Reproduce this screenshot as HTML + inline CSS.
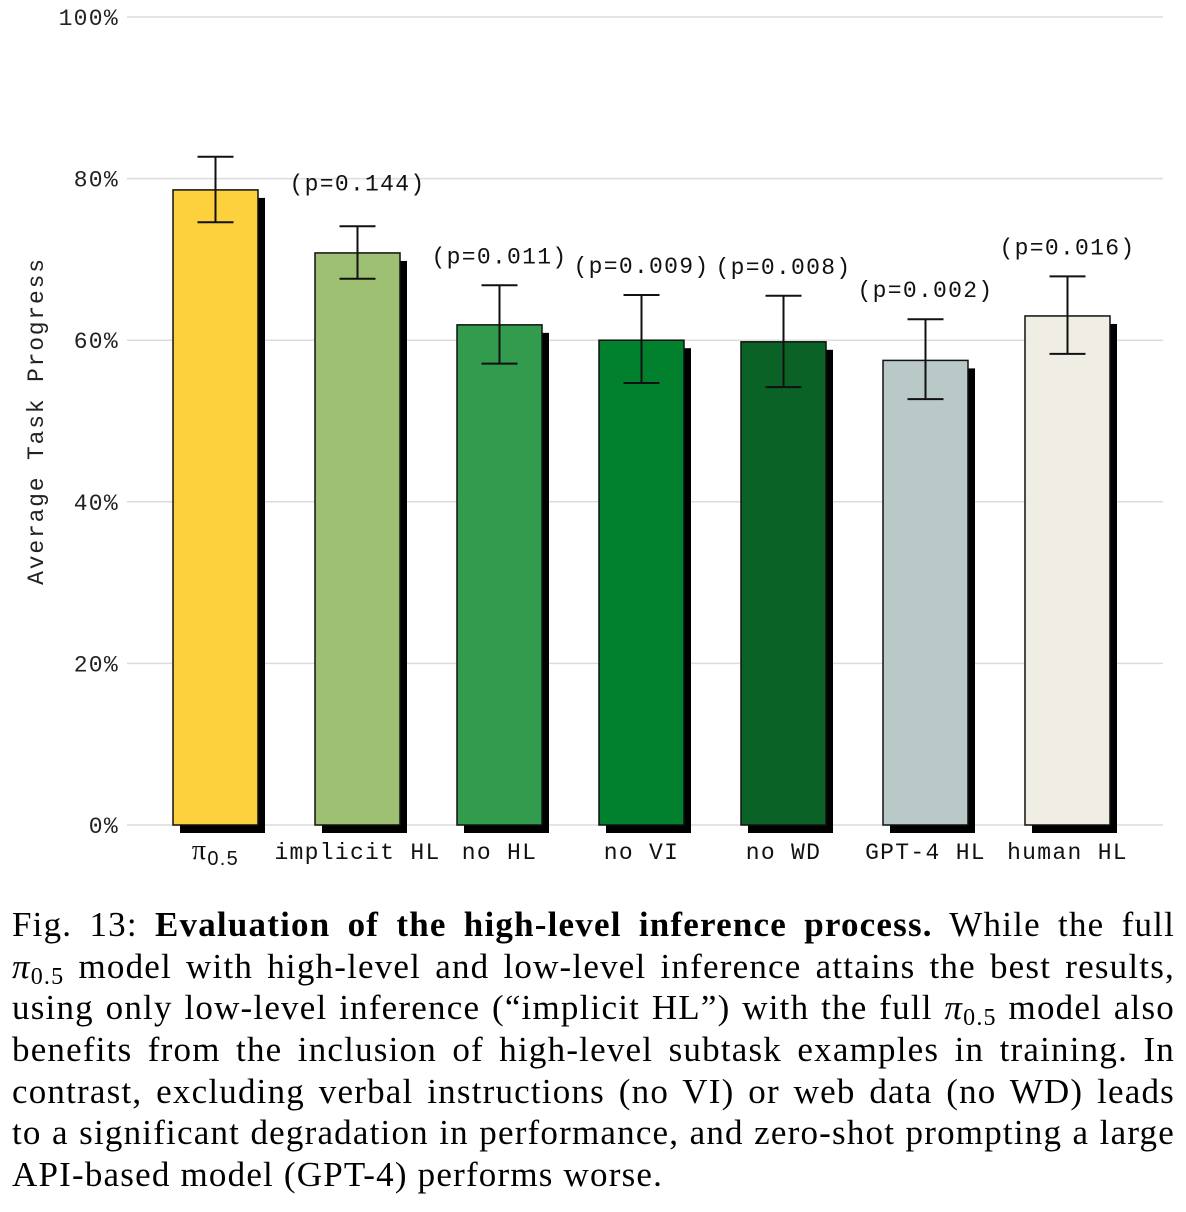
<!DOCTYPE html>
<html><head><meta charset="utf-8">
<style>
body{margin:0;background:#fff;width:1186px;height:1212px;overflow:hidden;}
#cap{position:absolute;left:12px;top:904px;width:1163px;font-family:"Liberation Serif",serif;font-size:35px;letter-spacing:1.2px;line-height:41.7px;color:#000;}
#cap .l{display:block;text-align:justify;text-align-last:justify;white-space:nowrap;height:41.7px;}
#cap .l.last{text-align-last:left;}
#cap sub{font-size:24px;line-height:0;vertical-align:-6px;}
</style></head><body>
<svg id="chart" width="1186" height="880" style="position:absolute;left:0;top:0" font-family="Liberation Mono, monospace"></svg>
<div id="cap">
<span class="l">Fig. 13: <b>Evaluation of the high-level inference process.</b> While the full</span>
<span class="l"><i>π</i><sub>0.5</sub> model with high-level and low-level inference attains the best results,</span>
<span class="l">using only low-level inference (“implicit HL”) with the full <i>π</i><sub>0.5</sub> model also</span>
<span class="l">benefits from the inclusion of high-level subtask examples in training. In</span>
<span class="l">contrast, excluding verbal instructions (no VI) or web data (no WD) leads</span>
<span class="l">to a significant degradation in performance, and zero-shot prompting a large</span>
<span class="l last">API-based model (GPT-4) performs worse.</span>
</div>
<script>
const categories=["π0.5","implicit HL","no HL","no VI","no WD","GPT-4 HL","human HL"];
const values=[78.6,70.8,61.9,60.0,59.8,57.5,63.0];
const errHi=[82.7,74.1,66.8,65.6,65.5,62.6,67.9];
const errLo=[74.6,67.6,57.1,54.7,54.2,52.7,58.3];
const pLabels=["","(p=0.144)","(p=0.011)","(p=0.009)","(p=0.008)","(p=0.002)","(p=0.016)"];
const colors=["#fdd13d","#9dc073","#339b4d","#01812e","#0a6227","#b8c9c8","#efede4"];
const ticks=[0,20,40,60,80,100];
const NS="http://www.w3.org/2000/svg";
const svg=document.getElementById('chart');
const y=v=>825-v*8.08;
const x=i=>173+i*142;
const bw=85;
const FS=23, LS=1.3;
function mk(t,a){const e=document.createElementNS(NS,t);for(const k in a)e.setAttribute(k,a[k]);svg.appendChild(e);return e;}
ticks.forEach(t=>{
 const g=mk('line',{x1:127,x2:1163,y1:y(t),y2:y(t),stroke:'#dcdcdc','stroke-width':1.5});
 
 
 const l=mk('text',{x:119,y:y(t)+8,'text-anchor':'end','font-size':FS,'letter-spacing':LS,fill:'#222'});
 l.textContent=t+'%';
 
 
});
const yt=mk('text',{x:43,y:421,'text-anchor':'middle','font-size':FS,'letter-spacing':1.8,fill:'#222',transform:'rotate(-90 43 421)'});
yt.textContent='Average Task Progress';


categories.forEach((c,i)=>{
 const s=mk('rect',{x:x(i)+7,y:y(values[i])+8,width:bw,height:825-y(values[i]),fill:'#000'});
 
 
 const b=mk('rect',{x:x(i),y:y(values[i]),width:bw,height:825-y(values[i]),fill:colors[i],stroke:'#111','stroke-width':1.5});
 
 
 const cx=x(i)+bw/2;
 const e=mk('path',{d:`M${cx-18} ${y(errHi[i])}H${cx+18}M${cx} ${y(errHi[i])}V${y(errLo[i])}M${cx-18} ${y(errLo[i])}H${cx+18}`,stroke:'#111','stroke-width':2,fill:'none'});
 
 
 if(pLabels[i]){
  const p=mk('text',{x:cx,y:y(errHi[i])-(i===1?36:22),'text-anchor':'middle','font-size':FS,'letter-spacing':LS,fill:'#111'});
  p.textContent=pLabels[i];
  
  }
 const l=mk('text',{x:cx,y:859,'text-anchor':'middle','font-size':FS,'letter-spacing':LS,fill:'#111'});
 if(i===0){l.innerHTML='<tspan font-family="Liberation Serif, serif" font-size="28">π</tspan><tspan font-family="Liberation Sans, sans-serif" font-size="20" dy="6">0.5</tspan>';}
 else l.textContent=c;
 
 
});
</script>
</body></html>
